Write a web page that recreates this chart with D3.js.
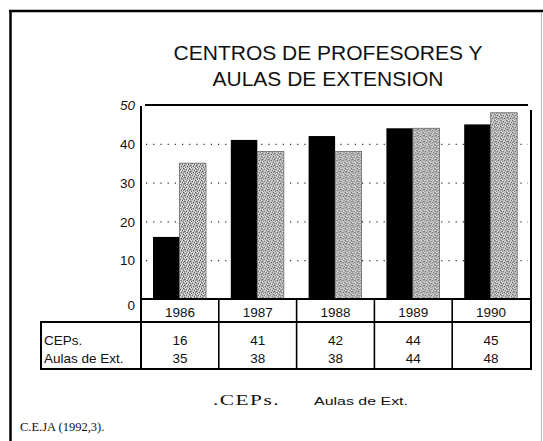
<!DOCTYPE html>
<html>
<head>
<meta charset="utf-8">
<script src="https://cdn.jsdelivr.net/npm/d3@7"></script>
<style>
  body { margin: 0; background: #fff; }
  svg { display: block; }
  text { font-family: "Liberation Sans", Arial, sans-serif; fill: #111; }
</style>
</head>
<body>
<div id="chart"></div>
<script>
// Data
const years = ["1986", "1987", "1988", "1989", "1990"];
const ceps = [16, 41, 42, 44, 45];
const aulas = [35, 38, 38, 44, 48];
const yTicks = [0, 10, 20, 30, 40, 50];
const seriesNames = ["CEPs.", "Aulas de Ext."];

const WIDTH = 543;
const HEIGHT = 441;

const svg = d3
  .select("#chart")
  .append("svg")
  .attr("width", WIDTH)
  .attr("height", HEIGHT);

// Halftone look for the grey bars (scattered 6x6 stipple)
const stipple = [
  [0, 0, "#555"], [3, 1, "#666"], [5, 2, "#5a5a5a"], [1, 3, "#626262"], [4, 4, "#585858"], [2, 5, "#6a6a6a"],
  [2, 0, "#eee"], [5, 0, "#e4e4e4"], [0, 2, "#f2f2f2"], [3, 3, "#e8e8e8"], [1, 5, "#f0f0f0"], [4, 1, "#ececec"],
  [1, 1, "#8c8c8c"], [4, 2, "#dadada"], [2, 3, "#909090"], [5, 4, "#e0e0e0"], [0, 4, "#888"], [3, 5, "#d8d8d8"]
];
const pat = svg.append("defs")
  .append("pattern")
  .attr("id", "dots")
  .attr("width", 6)
  .attr("height", 6)
  .attr("patternUnits", "userSpaceOnUse");
pat.append("rect").attr("width", 6).attr("height", 6).attr("fill", "#b4b4b4");
pat.selectAll("rect.px")
  .data(stipple)
  .enter()
  .append("rect")
  .attr("class", "px")
  .attr("x", (d) => d[0])
  .attr("y", (d) => d[1])
  .attr("width", 1)
  .attr("height", 1)
  .attr("fill", (d) => d[2]);

// Page frame
svg.append("line").attr("x1", 10.5).attr("x2", 10.5).attr("y1", 10).attr("y2", HEIGHT)
  .attr("stroke", "#000").attr("stroke-width", 2.5);
svg.append("line").attr("x1", 9).attr("x2", WIDTH).attr("y1", 11).attr("y2", 11)
  .attr("stroke", "#000").attr("stroke-width", 2.5);
svg.append("line").attr("x1", 541.5).attr("x2", 541.5).attr("y1", 12).attr("y2", HEIGHT)
  .attr("stroke", "#bbb").attr("stroke-width", 1);

// Title
const title = svg.append("text")
  .attr("text-anchor", "middle")
  .style("font-size", "21px");
title.append("tspan").attr("x", 328).attr("y", 60).text("CENTROS DE PROFESORES Y");
title.append("tspan").attr("x", 328).attr("y", 86).text("AULAS DE EXTENSION");

// Scales
const LEFT = 141;
const RIGHT = 530;
const x0 = d3.scaleBand().domain(years).range([LEFT, RIGHT]);
const x1 = d3.scaleBand().domain(seriesNames).range([12, 65]);
const y = d3.scaleLinear().domain([0, 50]).range([299, 105]);

// Dotted grid lines
svg.append("g")
  .selectAll("line")
  .data(yTicks.filter((d) => d > 0 && d < 50))
  .enter()
  .append("line")
  .attr("x1", 146)
  .attr("x2", RIGHT - 2)
  .attr("y1", (d) => y(d) + 0.5)
  .attr("y2", (d) => y(d) + 0.5)
  .attr("stroke", "#333")
  .attr("stroke-width", 1.2)
  .attr("stroke-dasharray", "1.2,6");

// Bars
const groups = svg.append("g")
  .selectAll("g")
  .data(years.map((yr, i) => ({ year: yr, values: [ceps[i], aulas[i]] })))
  .enter()
  .append("g")
  .attr("transform", (d) => "translate(" + x0(d.year) + ",0)");

groups.selectAll("rect")
  .data((d) => d.values.map((v, j) => ({ name: seriesNames[j], value: v })))
  .enter()
  .append("rect")
  .attr("x", (d) => x1(d.name))
  .attr("width", x1.bandwidth())
  .attr("y", (d) => y(d.value))
  .attr("height", (d) => y(0) - y(d.value))
  .attr("fill", (d) => (d.name === "CEPs." ? "#000" : "url(#dots)"))
  .attr("stroke", (d) => (d.name === "CEPs." ? "none" : "#666"))
  .attr("stroke-width", 0.8);

// Plot borders
svg.append("line").attr("x1", 145).attr("x2", RIGHT - 2).attr("y1", y(50)).attr("y2", y(50))
  .attr("stroke", "#000").attr("stroke-width", 2.2);
svg.append("line").attr("x1", LEFT).attr("x2", LEFT).attr("y1", y(50) + 1).attr("y2", 370)
  .attr("stroke", "#000").attr("stroke-width", 2);
svg.append("line").attr("x1", RIGHT + 1).attr("x2", RIGHT + 1).attr("y1", 110).attr("y2", 370)
  .attr("stroke", "#000").attr("stroke-width", 2);
svg.append("line").attr("x1", LEFT).attr("x2", RIGHT + 2).attr("y1", y(0)).attr("y2", y(0))
  .attr("stroke", "#000").attr("stroke-width", 2);

// Y axis labels
const yAxis = svg.append("g")
  .attr("transform", "translate(" + (LEFT - 6) + ",0)")
  .call(d3.axisLeft(y).tickValues(yTicks).tickSize(0).tickPadding(0));
yAxis.select(".domain").remove();
yAxis.selectAll("text")
  .style("font-family", "'Liberation Sans', Arial, sans-serif")
  .style("font-size", "13.5px")
  .style("font-style", (d) => (d === 50 ? "italic" : "normal"))
  .attr("fill", "#111")
  .attr("dy", (d) => (d === 0 ? "0.75em" : "0.35em"));

// Year row and data table
const TABLE_LEFT = 41;
const YEAR_BOTTOM = 322;
const TABLE_BOTTOM = 369;

svg.append("line").attr("x1", TABLE_LEFT - 1).attr("x2", RIGHT + 2).attr("y1", YEAR_BOTTOM).attr("y2", YEAR_BOTTOM)
  .attr("stroke", "#000").attr("stroke-width", 2);
svg.append("line").attr("x1", TABLE_LEFT - 1).attr("x2", RIGHT + 2).attr("y1", TABLE_BOTTOM).attr("y2", TABLE_BOTTOM)
  .attr("stroke", "#000").attr("stroke-width", 2);
svg.append("line").attr("x1", TABLE_LEFT).attr("x2", TABLE_LEFT).attr("y1", YEAR_BOTTOM).attr("y2", TABLE_BOTTOM)
  .attr("stroke", "#000").attr("stroke-width", 2);

svg.append("g")
  .selectAll("line")
  .data(years.slice(1))
  .enter()
  .append("line")
  .attr("x1", (d) => x0(d))
  .attr("x2", (d) => x0(d))
  .attr("y1", y(0))
  .attr("y2", TABLE_BOTTOM)
  .attr("stroke", "#000")
  .attr("stroke-width", 1.6);

const cellMid = (d) => x0(d) + x0.bandwidth() / 2;

svg.append("g")
  .selectAll("text")
  .data(years)
  .enter()
  .append("text")
  .attr("x", cellMid)
  .attr("y", 317)
  .attr("text-anchor", "middle")
  .style("font-size", "13.5px")
  .text((d) => d);

const rows = [ceps, aulas];
const rowY = [345, 363];

seriesNames.forEach((name, r) => {
  svg.append("text")
    .attr("x", 44)
    .attr("y", rowY[r])
    .style("font-size", "13.5px")
    .text(name);

  svg.append("g")
    .selectAll("text")
    .data(years)
    .enter()
    .append("text")
    .attr("x", cellMid)
    .attr("y", rowY[r])
    .attr("text-anchor", "middle")
    .style("font-size", "13.5px")
    .text((d, i) => rows[r][i]);
});

// Legend (as printed, without swatches)
svg.append("text")
  .attr("x", 213)
  .attr("y", 405)
  .attr("textLength", 67)
  .attr("lengthAdjust", "spacingAndGlyphs")
  .style("font-family", "'Liberation Serif', 'Times New Roman', serif")
  .style("font-size", "14.5px")
  .style("letter-spacing", "1px")
  .text("." + seriesNames[0]);

svg.append("text")
  .attr("x", 314)
  .attr("y", 405)
  .attr("textLength", 94)
  .attr("lengthAdjust", "spacingAndGlyphs")
  .style("font-size", "11px")
  .text(seriesNames[1]);

// Source
svg.append("text")
  .attr("x", 20)
  .attr("y", 431)
  .style("font-family", "'Liberation Serif', 'Times New Roman', serif")
  .style("font-size", "12.5px")
  .text("C.E.JA (1992,3).");
</script>
</body>
</html>
